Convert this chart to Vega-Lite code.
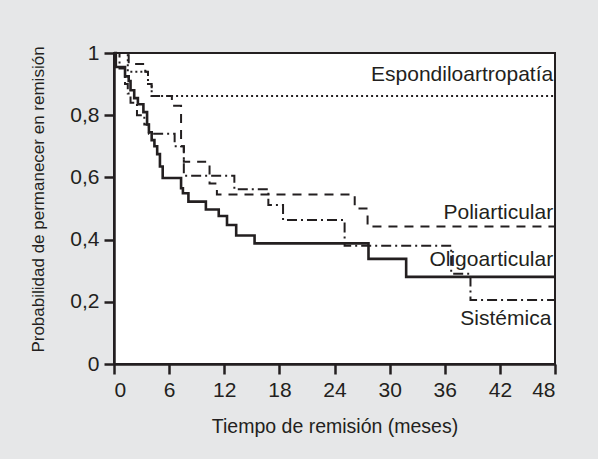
{
  "$schema": "https://vega.github.io/schema/vega-lite/v6.json",
  "width": 441,
  "height": 311,
  "autosize": {"type": "none"},
  "padding": {"left": 114, "top": 53, "right": 43, "bottom": 95},
  "background": "#e6e7e8",
  "config": {
    "view": {"fill": "white", "stroke": "#231f20", "strokeWidth": 2},
    "font": "Liberation Sans",
    "axis": {
      "grid": false,
      "domainColor": "#231f20",
      "domainWidth": 2.5,
      "tickColor": "#231f20",
      "tickWidth": 2.5,
      "tickSize": 10,
      "labelColor": "#231f20",
      "labelFont": "Liberation Sans",
      "labelFontSize": 21,
      "titleColor": "#231f20",
      "titleFont": "Liberation Sans",
      "titleFontSize": 19.5,
      "titleFontWeight": "normal"
    }
  },
  "datasets": {
    "curves": [
      {"g": "Espondiloartropatía", "t": 0, "s": 1},
      {"g": "Espondiloartropatía", "t": 1.5, "s": 0.94},
      {"g": "Espondiloartropatía", "t": 3.7, "s": 0.9},
      {"g": "Espondiloartropatía", "t": 4.1, "s": 0.862},
      {"g": "Espondiloartropatía", "t": 48, "s": 0.862},
      {"g": "Poliarticular", "t": 0, "s": 1},
      {"g": "Poliarticular", "t": 1.6, "s": 0.965},
      {"g": "Poliarticular", "t": 3.4, "s": 0.94},
      {"g": "Poliarticular", "t": 3.7, "s": 0.9},
      {"g": "Poliarticular", "t": 4.1, "s": 0.862},
      {"g": "Poliarticular", "t": 6.3, "s": 0.83},
      {"g": "Poliarticular", "t": 7.3, "s": 0.7},
      {"g": "Poliarticular", "t": 7.6, "s": 0.65},
      {"g": "Poliarticular", "t": 10.4, "s": 0.58},
      {"g": "Poliarticular", "t": 11.2, "s": 0.545},
      {"g": "Poliarticular", "t": 26.2, "s": 0.5},
      {"g": "Poliarticular", "t": 27.6, "s": 0.442},
      {"g": "Poliarticular", "t": 48, "s": 0.442},
      {"g": "Oligoarticular", "t": 0, "s": 1},
      {"g": "Oligoarticular", "t": 0.2, "s": 0.955},
      {"g": "Oligoarticular", "t": 1.2, "s": 0.925},
      {"g": "Oligoarticular", "t": 1.6, "s": 0.91},
      {"g": "Oligoarticular", "t": 1.8, "s": 0.88},
      {"g": "Oligoarticular", "t": 2.2, "s": 0.855},
      {"g": "Oligoarticular", "t": 2.6, "s": 0.835},
      {"g": "Oligoarticular", "t": 3.2, "s": 0.81},
      {"g": "Oligoarticular", "t": 3.6, "s": 0.77},
      {"g": "Oligoarticular", "t": 3.8, "s": 0.745},
      {"g": "Oligoarticular", "t": 4.1, "s": 0.72},
      {"g": "Oligoarticular", "t": 4.4, "s": 0.7},
      {"g": "Oligoarticular", "t": 4.7, "s": 0.675},
      {"g": "Oligoarticular", "t": 5.0, "s": 0.635},
      {"g": "Oligoarticular", "t": 5.3, "s": 0.598},
      {"g": "Oligoarticular", "t": 7.3, "s": 0.565},
      {"g": "Oligoarticular", "t": 7.5, "s": 0.549},
      {"g": "Oligoarticular", "t": 8.1, "s": 0.522},
      {"g": "Oligoarticular", "t": 10.0, "s": 0.497},
      {"g": "Oligoarticular", "t": 11.4, "s": 0.476},
      {"g": "Oligoarticular", "t": 12.3, "s": 0.447},
      {"g": "Oligoarticular", "t": 13.3, "s": 0.413},
      {"g": "Oligoarticular", "t": 15.3, "s": 0.388},
      {"g": "Oligoarticular", "t": 27.7, "s": 0.338},
      {"g": "Oligoarticular", "t": 31.8, "s": 0.28},
      {"g": "Oligoarticular", "t": 48, "s": 0.28},
      {"g": "Sistémica", "t": 0, "s": 1},
      {"g": "Sistémica", "t": 0.6, "s": 0.95},
      {"g": "Sistémica", "t": 1.2, "s": 0.9},
      {"g": "Sistémica", "t": 1.5, "s": 0.87},
      {"g": "Sistémica", "t": 1.8, "s": 0.84},
      {"g": "Sistémica", "t": 2.5, "s": 0.8},
      {"g": "Sistémica", "t": 3.3, "s": 0.77},
      {"g": "Sistémica", "t": 3.8, "s": 0.74},
      {"g": "Sistémica", "t": 6.6, "s": 0.7},
      {"g": "Sistémica", "t": 7.6, "s": 0.605},
      {"g": "Sistémica", "t": 13.1, "s": 0.562},
      {"g": "Sistémica", "t": 16.8, "s": 0.511},
      {"g": "Sistémica", "t": 18.4, "s": 0.463},
      {"g": "Sistémica", "t": 25.1, "s": 0.38},
      {"g": "Sistémica", "t": 36.7, "s": 0.29},
      {"g": "Sistémica", "t": 38.8, "s": 0.206},
      {"g": "Sistémica", "t": 48, "s": 0.206}
    ],
    "labels": [
      {"label": "Espondiloartropatía", "t": 47.8, "s": 0.929},
      {"label": "Poliarticular", "t": 47.8, "s": 0.486},
      {"label": "Oligoarticular", "t": 47.8, "s": 0.334},
      {"label": "Sistémica", "t": 47.6, "s": 0.145}
    ]
  },
  "layer": [
    {
      "data": {"name": "curves"},
      "transform": [{"filter": "datum.g != 'Oligoarticular'"}],
      "mark": {"type": "line", "interpolate": "step-after", "color": "#231f20", "strokeWidth": 2},
      "encoding": {
        "x": {
          "field": "t", "type": "quantitative",
          "scale": {"domain": [0, 48], "nice": false},
          "axis": {"values": [0, 6, 12, 18, 24, 30, 36, 42, 48], "labelPadding": 5, "title": "Tiempo de remisión (meses)", "titleY": 62, "titleBaseline": "middle"}
        },
        "y": {
          "field": "s", "type": "quantitative",
          "scale": {"domain": [0, 1], "nice": false},
          "axis": {"values": [0, 0.2, 0.4, 0.6, 0.8, 1], "labelExpr": "replace(format(datum.value, '~g'), '.', ',')", "labelPadding": 5, "title": "Probabilidad de permanecer en remisión", "titleX": -76, "titleY": 146, "titleFontSize": 17, "titleBaseline": "middle", "titleAngle": -90}
        },
        "strokeDash": {
          "field": "g", "type": "nominal",
          "scale": {"domain": ["Espondiloartropatía", "Poliarticular", "Sistémica"], "range": [[2, 3], [9, 7], [10, 4, 2, 4]]},
          "legend": null
        }
      }
    },
    {
      "data": {"name": "curves"},
      "transform": [{"filter": "datum.g == 'Oligoarticular'"}],
      "mark": {"type": "line", "interpolate": "step-after", "color": "#231f20", "strokeWidth": 2.6},
      "encoding": {
        "x": {"field": "t", "type": "quantitative"},
        "y": {"field": "s", "type": "quantitative"}
      }
    },
    {
      "data": {"name": "labels"},
      "mark": {"type": "text", "align": "right", "baseline": "middle", "fontSize": 21, "font": "Liberation Sans", "color": "#231f20"},
      "encoding": {
        "x": {"field": "t", "type": "quantitative"},
        "y": {"field": "s", "type": "quantitative"},
        "text": {"field": "label"}
      }
    }
  ]
}
